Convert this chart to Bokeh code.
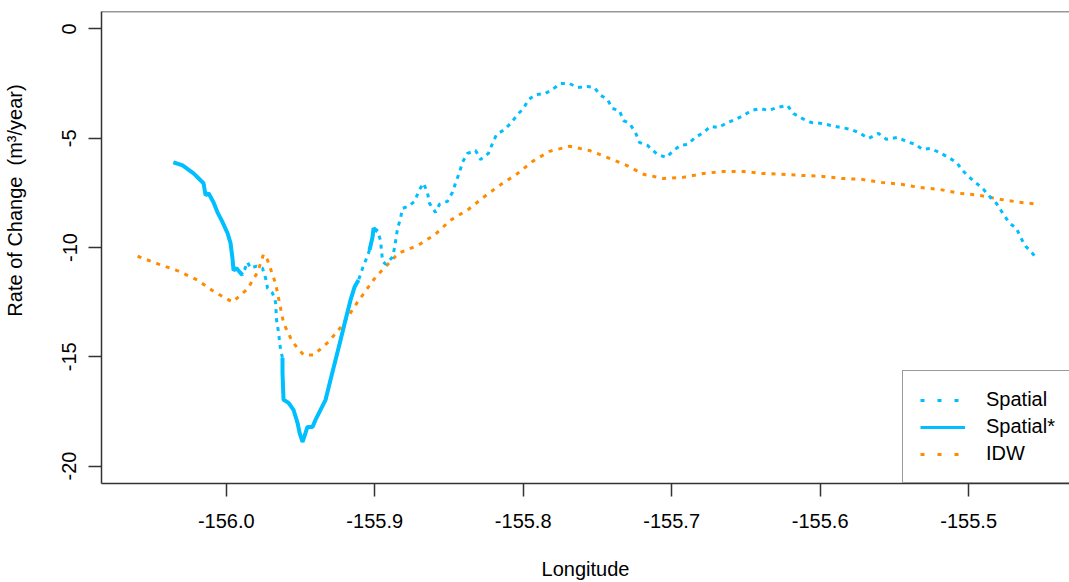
import math
from bokeh.plotting import figure
from bokeh.models import Range1d, FixedTicker, Legend, LegendItem, Label, Span
from bokeh.embed import file_html
from bokeh.resources import INLINE

# ---------------- data ----------------
idw_lon = [-156.0597, -156.0456, -156.0321, -156.0193, -156.0086, -155.9958, -155.9857,
           -155.9789, -155.9749, -155.9722, -155.9668, -155.9614, -155.9554, -155.9479,
           -155.9412, -155.9311, -155.9217, -155.9116, -155.8995, -155.8840, -155.8705,
           -155.8591, -155.8490, -155.8368, -155.8267, -155.8160, -155.8045, -155.7937,
           -155.7823, -155.7688, -155.7554, -155.7419, -155.7304, -155.7190, -155.7055,
           -155.6921, -155.6786, -155.6651, -155.6516, -155.6395, -155.6261, -155.6126,
           -155.5991, -155.5857, -155.5722, -155.5587, -155.5453, -155.5331, -155.5197,
           -155.5062, -155.4927, -155.4793, -155.4658, -155.4523]
idw_val = [-10.40, -10.76, -11.08, -11.49, -12.00, -12.50, -11.90, -11.13, -10.31, -10.58,
           -11.63, -13.46, -14.32, -14.92, -14.92, -14.32, -13.55, -12.50, -11.36, -10.26,
           -9.89, -9.39, -8.75, -8.25, -7.70, -7.16, -6.65, -6.06, -5.60, -5.37,
           -5.56, -5.92, -6.24, -6.65, -6.84, -6.79, -6.61, -6.52, -6.52, -6.61,
           -6.65, -6.70, -6.74, -6.84, -6.88, -7.02, -7.11, -7.25, -7.34, -7.52,
           -7.61, -7.79, -7.93, -8.02]

spatial_lon = [-156.0355, -156.0294, -156.0220, -156.0153, -156.0139, -156.0119, -156.0086,
               -156.0059, -156.0025, -155.9991, -155.9971, -155.9958, -155.9951, -155.9931,
               -155.9904, -155.9890, -155.9857, -155.9836, -155.9796, -155.9756, -155.9735,
               -155.9722, -155.9688, -155.9668, -155.9661, -155.9648, -155.9634, -155.9621,
               -155.9621, -155.9614, -155.9580, -155.9547, -155.9520, -155.9506, -155.9486,
               -155.9466, -155.9453, -155.9419, -155.9399, -155.9365, -155.9331, -155.9298,
               -155.9264, -155.9230, -155.9197, -155.9163, -155.9136, -155.9109, -155.9082,
               -155.9055, -155.9035, -155.9015, -155.9008, -155.8981, -155.8961, -155.8954,
               -155.8947, -155.8927, -155.8880, -155.8867, -155.8846, -155.8826, -155.8813,
               -155.8772, -155.8732, -155.8698, -155.8671, -155.8644, -155.8631, -155.8591,
               -155.8564, -155.8510, -155.8476, -155.8456, -155.8429, -155.8409, -155.8375,
               -155.8321, -155.8288, -155.8234, -155.8207, -155.8180, -155.8126, -155.8079,
               -155.8038, -155.7998, -155.7964, -155.7917, -155.7850, -155.7796, -155.7749,
               -155.7688, -155.7634, -155.7567, -155.7520, -155.7486, -155.7432, -155.7399,
               -155.7352, -155.7325, -155.7284, -155.7244, -155.7217, -155.7163, -155.7096,
               -155.7035, -155.6988, -155.6941, -155.6894, -155.6840, -155.6786, -155.6739,
               -155.6685, -155.6624, -155.6570, -155.6516, -155.6463, -155.6402, -155.6348,
               -155.6288, -155.6220, -155.6180, -155.6119, -155.6059, -155.5991, -155.5924,
               -155.5857, -155.5789, -155.5729, -155.5675, -155.5607, -155.5554, -155.5479,
               -155.5419, -155.5358, -155.5311, -155.5257, -155.5197, -155.5136, -155.5082,
               -155.5042, -155.4995, -155.4947, -155.4900, -155.4860, -155.4813, -155.4766,
               -155.4725, -155.4678, -155.4651, -155.4617, -155.4577, -155.4544]
spatial_val = [-6.10, -6.24, -6.61, -7.06, -7.61, -7.52, -7.93, -8.39, -8.84, -9.35,
               -9.80, -10.49, -11.04, -10.95, -11.17, -11.26, -10.67, -10.95, -10.85, -10.95,
               -11.40, -11.86, -12.09, -12.50, -13.32, -13.87, -14.69, -15.05,
               -15.74, -16.97, -17.11, -17.43, -18.02, -18.48, -18.89, -18.48, -18.21, -18.21,
               -17.89, -17.43, -16.97, -16.06, -15.15, -14.23, -13.32, -12.41, -11.81, -11.49,
               -10.95, -10.49, -10.12, -9.53, -9.12, -9.26, -9.67, -10.17, -10.63, -10.76,
               -10.44, -10.03, -9.12, -8.66, -8.21, -8.11, -7.89, -7.34, -7.06, -7.52,
               -7.98, -8.39, -8.02, -7.89, -7.47, -7.06, -6.56, -6.10, -5.69, -5.56,
               -5.97, -5.69, -5.24, -4.83, -4.60, -4.28, -3.91, -3.64, -3.23, -3.00,
               -2.95, -2.73, -2.50, -2.50, -2.68, -2.63, -2.68, -3.00, -3.23, -3.64,
               -3.73, -4.19, -4.32, -4.74, -5.19, -5.33, -5.74, -5.88, -5.56, -5.33,
               -5.28, -4.96, -4.74, -4.46, -4.51, -4.28, -4.14, -3.96, -3.73, -3.64,
               -3.73, -3.59, -3.50, -3.87, -4.10, -4.28, -4.32, -4.42, -4.51, -4.60,
               -4.78, -5.01, -4.78, -5.05, -4.96, -5.15, -5.28, -5.51, -5.47, -5.65,
               -5.88, -6.10, -6.47, -6.79, -7.06, -7.34, -7.66, -7.98, -8.48, -8.89,
               -9.12, -9.53, -9.94, -10.21, -10.49]

nan = float("nan")
spatial_star_lon = [-156.0355, -156.0294, -156.0220, -156.0153, -156.0139, -156.0119, -156.0086,
                    -156.0059, -156.0025, -155.9991, -155.9971, -155.9958, -155.9951, -155.9931,
                    -155.9904, -155.9890, nan,
                    -155.9621, -155.9621, -155.9614, -155.9580, -155.9547, -155.9520, -155.9506,
                    -155.9486, -155.9466, -155.9453, -155.9419, -155.9399, -155.9365, -155.9331,
                    -155.9298, -155.9264, -155.9230, -155.9197, -155.9163, -155.9136, -155.9109, nan,
                    -155.9035, -155.9015, -155.9008, -155.8981]
spatial_star_val = [-6.10, -6.24, -6.61, -7.06, -7.61, -7.52, -7.93, -8.39, -8.84, -9.35,
                    -9.80, -10.49, -11.04, -10.95, -11.17, -11.26, nan,
                    -15.05, -15.74, -16.97, -17.11, -17.43, -18.02, -18.48, -18.89, -18.48,
                    -18.21, -18.21, -17.89, -17.43, -16.97, -16.06, -15.15, -14.23, -13.32,
                    -12.41, -11.81, -11.49, nan,
                    -10.12, -9.53, -9.12, -9.26]

x_ticks = [-156.0, -155.9, -155.8, -155.7, -155.6, -155.5]
x_tick_labels = ["-156.0", "-155.9", "-155.8", "-155.7", "-155.6", "-155.5"]
y_ticks = [0, -5, -10, -15, -20]
y_tick_labels = ["0", "-5", "-10", "-15", "-20"]
series_names = ["Spatial", "Spatial*", "IDW"]
x_title = "Longitude"
y_title = "Rate of Change\u00a0 (m\u00b3/year)"

# ---------------- style ----------------
BLUE = "#00BFFF"
ORANGE = "#FF8C00"
INK = "#333333"
FONT = "Liberation Sans"
FS = "20px"

p = figure(width=1069, height=582, output_backend="svg", toolbar_location=None,
           x_range=Range1d(-156.0840, -155.4321), y_range=Range1d(-20.8, 0.8),
           min_border_left=101, min_border_right=0, min_border_top=11, min_border_bottom=99)
p.grid.visible = False
p.outline_line_color = None
p.background_fill_color = "white"
p.border_fill_color = "white"

for ax in (p.xaxis[0], p.yaxis[0]):
    ax.axis_line_color = INK
    ax.axis_line_width = 1.5
    ax.major_tick_line_color = INK
    ax.major_tick_line_width = 1.5
    ax.major_tick_out = 13
    ax.major_tick_in = 0
    ax.minor_tick_out = 0
    ax.minor_tick_in = 0
    ax.major_label_text_font = FONT
    ax.major_label_text_font_size = FS
    ax.major_label_text_color = "black"

p.xaxis.ticker = FixedTicker(ticks=x_ticks)
p.xaxis.major_label_overrides = dict(zip(x_ticks, x_tick_labels))
p.xaxis.major_label_standoff = 17
p.xaxis.axis_label = x_title
p.xaxis.axis_label_text_font = FONT
p.xaxis.axis_label_text_font_size = FS
p.xaxis.axis_label_text_font_style = "normal"
p.xaxis.axis_label_text_color = "black"
p.xaxis.axis_label_standoff = 27

p.yaxis.ticker = FixedTicker(ticks=y_ticks)
p.yaxis.major_label_overrides = dict(zip(y_ticks, y_tick_labels))
p.yaxis.major_label_orientation = "vertical"
p.yaxis.major_label_standoff = 12

# top border of the box
p.add_layout(Span(location=0.8, dimension="width", line_color=INK, line_width=1.5))

# y title as rotated text in the left side panel (outside the axis)
p.add_layout(Label(x=-23, y=283, x_units="screen", y_units="screen", text=y_title,
                   angle=math.pi / 2, text_align="center", text_baseline="alphabetic",
                   text_font=FONT, text_font_size=FS, text_color="black"), "left")

# data lines
p.line(idw_lon, idw_val, line_color=ORANGE, line_width=3, line_dash="4 6")
p.line(spatial_lon, spatial_val, line_color=BLUE, line_width=3, line_dash="4 5")
p.line(spatial_star_lon, spatial_star_val, line_color=BLUE, line_width=4)

# legend key renderers (a single missing point, only provide the key styles)
k_sp = p.line([nan], [nan], line_color=BLUE, line_width=3, line_dash="4 13")
k_st = p.line([nan], [nan], line_color=BLUE, line_width=3)
k_idw = p.line([nan], [nan], line_color=ORANGE, line_width=3, line_dash="4 13")

legend = Legend(items=[LegendItem(label=series_names[0], renderers=[k_sp]),
                       LegendItem(label=series_names[1], renderers=[k_st]),
                       LegendItem(label=series_names[2], renderers=[k_idw])],
                location=(801, 0), margin=0, padding=17, spacing=4,
                glyph_width=45, glyph_height=20, label_height=20, label_width=85,
                label_standoff=21, label_text_font=FONT, label_text_font_size=FS,
                label_text_color="black", border_line_color=INK, border_line_width=1.5,
                background_fill_color="white", background_fill_alpha=1.0)
p.add_layout(legend)

open("out.html", "w").write(file_html(p, INLINE))
